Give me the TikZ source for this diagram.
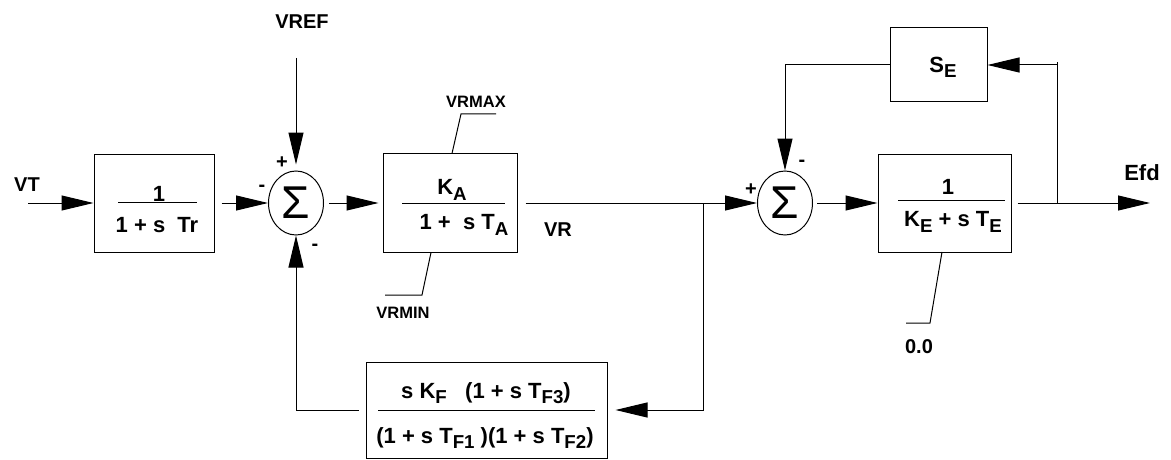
\documentclass[tikz,border=0pt]{standalone}
\usepackage{fontspec}
\setmainfont{Liberation Sans}
\usetikzlibrary{arrows.meta,shapes.geometric}
\newcommand\sbx[1]{\raisebox{-0.45ex}{\scalebox{0.85}{#1}}}
\begin{document}
\begin{tikzpicture}[x=1pt,y=-1pt, line width=1pt,
  arr/.style={-{Triangle[length=32pt,width=15pt]}},
  blk/.style={draw, rectangle, inner sep=0pt},
  sumnode/.style={draw, ellipse, minimum width=55pt, minimum height=64pt, inner sep=0pt, font=\fontsize{46}{46}\selectfont},
  lbl/.style={font=\fontsize{20}{20}\selectfont\bfseries, inner sep=0pt},
  slbl/.style={font=\fontsize{16.5}{16.5}\selectfont\bfseries, inner sep=0pt},
  btxt/.style={font=\fontsize{22}{22}\selectfont\bfseries, inner sep=0pt},
  sgn/.style={font=\fontsize{20}{20}\selectfont\bfseries, inner sep=0pt}]
\useasboundingbox (0,0) rectangle (1171,460);

% blocks
\node[blk, minimum width=120pt, minimum height=98pt] (b1) at (154,203) {};
\node[btxt] (b1n) at (159,194) {1};
\draw (118,202) -- (197,202);
\node[btxt] (b1d) at (157,225) {1 + s\ \ Tr};

\node[sumnode] (s1) at (296,203) {Σ};

\node[blk, minimum width=134pt, minimum height=99pt] (ka) at (450,203) {};
\node[btxt] (kan) at (452,190) {K\sbx{A}};
\draw (402,203) -- (505,203);
\node[btxt] (kad) at (464,225) {1 +\ \ s T\sbx{A}};

\node[sumnode] (s2) at (785,203) {Σ};

\node[blk, minimum width=133pt, minimum height=98pt] (ke) at (944.5,203) {};
\node[btxt] (ken) at (948,187) {1};
\draw (898,200) -- (1005,200);
\node[btxt] (ked) at (953,222) {K\sbx{E} + s T\sbx{E}};

\node[blk, minimum width=97pt, minimum height=74pt] (se) at (938.5,65) {};
\node[btxt] (set) at (943,67) {S\sbx{E}};

\node[blk, minimum width=241pt, minimum height=96pt] (fb) at (486.5,410) {};
\node[btxt] (fbn) at (486,393) {s K\sbx{F}\ \ \ (1 + s T\sbx{F3})};
\draw (378,410) -- (595,410);
\node[btxt] (fbd) at (485,438) {(1 + s T\sbx{F1} )(1 + s T\sbx{F2})};

% labels
\node[lbl] (vreft) at (302,22) {VREF};
\node[lbl] (vtt) at (27,185) {VT};
\node[lbl] (vrt) at (558,230) {VR};
\node[font=\fontsize{22}{22}\selectfont\bfseries, inner sep=0pt] (efdt) at (1142,173) {Efd};
\node[slbl] (vrmaxt) at (476,102) {VRMAX};
\node[slbl] (vrmint) at (403,313) {VRMIN};
\node[lbl] (zerot) at (919,347) {0.0};

% signs
\node[sgn] (p1) at (282,163) {+};
\node[sgn] (m1) at (262,188) {-};
\node[sgn] (m2) at (315,247) {-};
\node[sgn] (p2) at (751,190) {+};
\node[sgn] (m3) at (802,163) {-};

% coordinates
\coordinate (vtin) at (28,203);
\coordinate (vref) at (296,58);
\coordinate (j1) at (703,203);
\coordinate (j2) at (1057,203);
\coordinate (jtop) at (1057,62);
\coordinate (efd) at (1150,203);

% connectors
\draw[arr] (vtin) -- (b1.west);
\draw[arr, shorten <=7pt] (b1.east) -- (s1.west);
\draw[arr, shorten >=6pt] (vref) -- (s1.north);
\draw[arr, shorten <=5pt, shorten >=4pt] (s1.east) -- (ka.west);
\draw[arr, shorten <=8pt] (ka.east) -- (s2.west);
\draw[arr, shorten >=8pt] (j1) |- (fb.east);
\draw[arr, shorten <=7pt] (fb.west) -| (s1.south);
\draw[arr] (se.west) -| (s2.north);
\draw[arr, shorten <=4pt] (s2.east) -- (ke.west);
\draw[arr, shorten <=6pt] (ke.east) -- (efd);
\draw (j2) -- (jtop);
\draw[arr] (j2 |- se.east) -- (se.east);

% limiter lines
\draw (496,114) -- (461,114) -- (452,153.5);
\draw (431,252.5) -- (422,295) -- (385,295);
\draw (942,252) -- (930,323) -- (906,323);
\draw[line width=1.8pt] (942,252.5) -- (972,252.5);
\end{tikzpicture}
\end{document}
